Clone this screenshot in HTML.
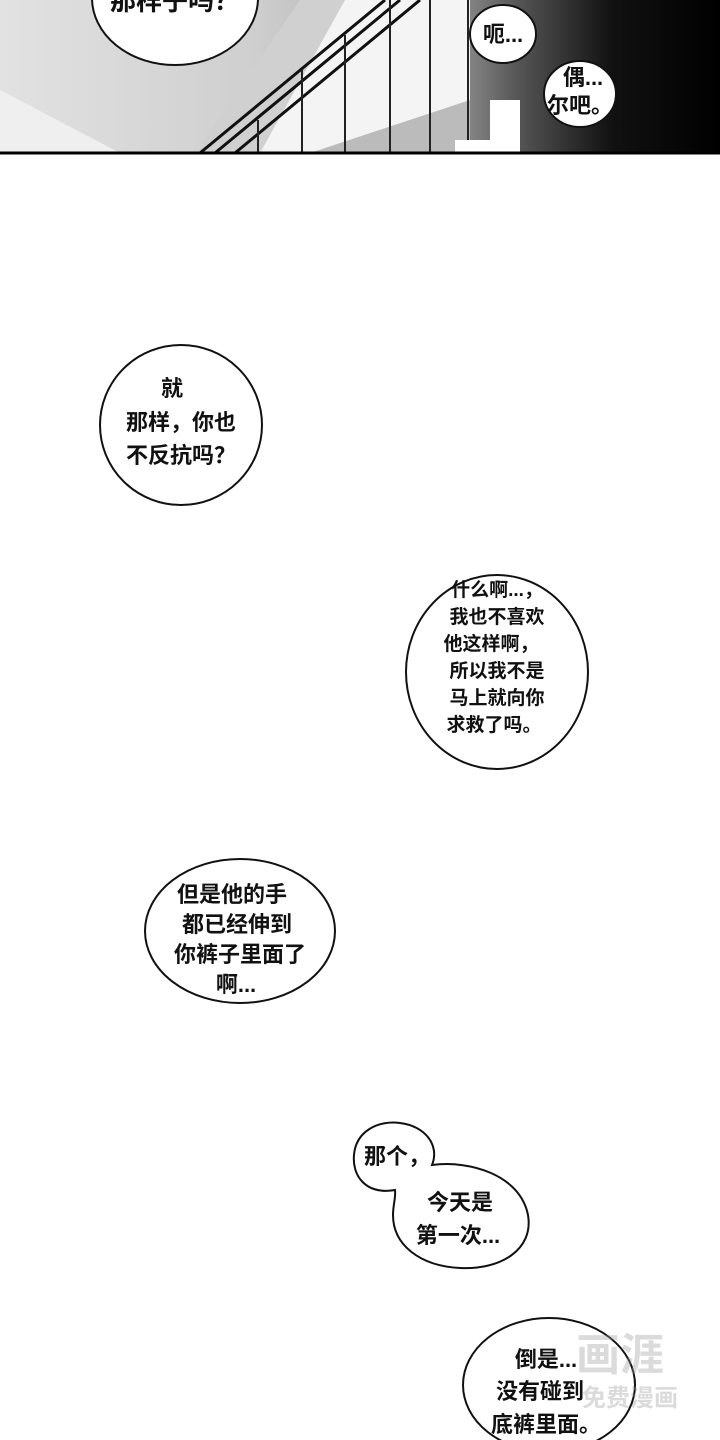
<!DOCTYPE html>
<html><head><meta charset="utf-8"><style>
html,body{margin:0;padding:0;background:#fff}
svg{display:block}
text{font-family:"Liberation Sans","Noto Sans CJK SC",sans-serif;font-weight:bold;fill:#111}
</style></head><body>
<svg width="720" height="1440" viewBox="0 0 720 1440" xmlns="http://www.w3.org/2000/svg">
<defs>
<linearGradient id="bg" x1="0" y1="0" x2="1" y2="0">
<stop offset="0" stop-color="#e2e2e2"/>
<stop offset="0.35" stop-color="#cfcfcf"/>
<stop offset="0.6" stop-color="#a8a8a8"/>
<stop offset="0.72" stop-color="#555"/>
<stop offset="0.85" stop-color="#111"/>
<stop offset="1" stop-color="#000"/>
</linearGradient>
</defs>
<rect x="0" y="0" width="720" height="153" fill="url(#bg)"/>
<polygon points="0,90 120,153 0,153" fill="#efefef"/>
<polygon points="300,0 420,0 420,153 195,153" fill="#d0d0d0"/>
<polygon points="345,0 470,0 470,153 260,153" fill="#f4f4f4"/>
<polygon points="310,153 470,100 470,153" fill="#bbb"/>
<g stroke="#111" stroke-width="3">
<line x1="385" y1="0" x2="200" y2="153"/>
<line x1="400" y1="0" x2="215" y2="153"/>
<line x1="420" y1="0" x2="235" y2="153"/>
</g>
<g stroke="#222" stroke-width="2">
<line x1="258" y1="120" x2="258" y2="153"/>
<line x1="302" y1="70" x2="302" y2="153"/>
<line x1="345" y1="35" x2="345" y2="153"/>
<line x1="390" y1="0" x2="390" y2="153"/>
<line x1="430" y1="0" x2="430" y2="153"/>
<line x1="468" y1="0" x2="468" y2="153"/>
</g>
<polygon points="455,140 490,140 490,100 520,100 520,153 455,153" fill="#fff"/>
<line x1="0" y1="153" x2="720" y2="153" stroke="#000" stroke-width="3"/>
<g fill="#fff" stroke="#111" stroke-width="2">
<ellipse cx="175" cy="-2" rx="83" ry="67"/>
<ellipse cx="503" cy="34" rx="33" ry="29"/>
<ellipse cx="580" cy="94" rx="36" ry="33"/>
<ellipse cx="181" cy="425" rx="81" ry="80"/>
<ellipse cx="497" cy="672" rx="91" ry="97"/>
<ellipse cx="240" cy="931" rx="95" ry="72"/>
<path d="M395,1190 C365,1195 352,1175 354,1155 C356,1130 380,1120 400,1123 C425,1126 440,1145 432,1165 C470,1160 520,1175 528,1215 C534,1250 500,1270 460,1268 C420,1266 393,1245 393,1215 C393,1205 396,1197 395,1190 Z"/>
<ellipse cx="549" cy="1385" rx="86" ry="67"/>
</g>
<text x="175" y="10" font-size="26" text-anchor="middle">那样子吗？</text>
<text x="503" y="42" font-size="22" text-anchor="middle">呃...</text>
<text x="583" y="85" font-size="22" text-anchor="middle">偶...</text>
<text x="580" y="113" font-size="22" text-anchor="middle">尔吧。</text>
<g font-size="22" text-anchor="middle">
<text x="172" y="396">就</text>
<text x="181" y="430">那样，你也</text>
<text x="181" y="463">不反抗吗？</text>
</g>
<g font-size="19" text-anchor="middle">
<text x="497" y="596">什么啊...，</text>
<text x="497" y="623">我也不喜欢</text>
<text x="491" y="650">他这样啊，</text>
<text x="497" y="677">所以我不是</text>
<text x="497" y="704">马上就向你</text>
<text x="494" y="731">求救了吗。</text>
</g>
<g font-size="22" text-anchor="middle">
<text x="232" y="902">但是他的手</text>
<text x="237" y="932">都已经伸到</text>
<text x="240" y="962">你裤子里面了</text>
<text x="236" y="992">啊...</text>
</g>
<text x="397" y="1164" font-size="22" text-anchor="middle">那个，</text>
<text x="460" y="1210" font-size="22" text-anchor="middle">今天是</text>
<text x="458" y="1243" font-size="22" text-anchor="middle">第一次...</text>
<g font-size="22" text-anchor="middle">
<text x="546" y="1367">倒是...</text>
<text x="540" y="1399">没有碰到</text>
<text x="546" y="1432">底裤里面。</text>
</g>
<g opacity="0.35">
<text x="620" y="1370" font-size="44" text-anchor="middle" style="fill:#999">画涯</text>
<text x="630" y="1406" font-size="24" text-anchor="middle" style="fill:#999">免费漫画</text>
</g>
</svg>
</body></html>
